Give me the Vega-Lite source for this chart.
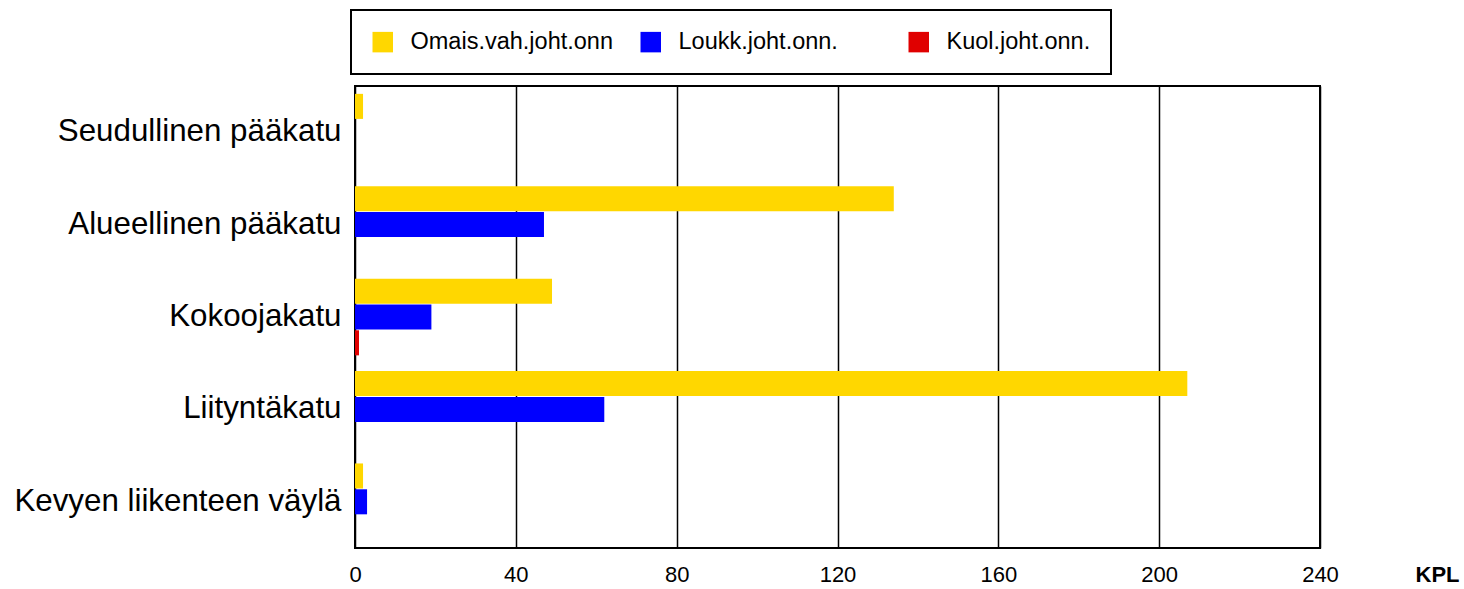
{
  "$schema": "https://vega.github.io/schema/vega-lite/v6.json",
  "width": 965,
  "height": 462,
  "autosize": {"type": "none"},
  "padding": {"left": 355, "top": 86, "right": 144, "bottom": 41},
  "background": "white",
  "data": {
    "values": [
      {"katu": "Seudullinen pääkatu", "sarja": "Omais.vah.joht.onn", "kpl": 2},
      {"katu": "Seudullinen pääkatu", "sarja": "Loukk.joht.onn.", "kpl": 0},
      {"katu": "Seudullinen pääkatu", "sarja": "Kuol.joht.onn.", "kpl": 0},
      {"katu": "Alueellinen pääkatu", "sarja": "Omais.vah.joht.onn", "kpl": 134},
      {"katu": "Alueellinen pääkatu", "sarja": "Loukk.joht.onn.", "kpl": 47},
      {"katu": "Alueellinen pääkatu", "sarja": "Kuol.joht.onn.", "kpl": 0},
      {"katu": "Kokoojakatu", "sarja": "Omais.vah.joht.onn", "kpl": 49},
      {"katu": "Kokoojakatu", "sarja": "Loukk.joht.onn.", "kpl": 19},
      {"katu": "Kokoojakatu", "sarja": "Kuol.joht.onn.", "kpl": 1},
      {"katu": "Liityntäkatu", "sarja": "Omais.vah.joht.onn", "kpl": 207},
      {"katu": "Liityntäkatu", "sarja": "Loukk.joht.onn.", "kpl": 62},
      {"katu": "Liityntäkatu", "sarja": "Kuol.joht.onn.", "kpl": 0},
      {"katu": "Kevyen liikenteen väylä", "sarja": "Omais.vah.joht.onn", "kpl": 2},
      {"katu": "Kevyen liikenteen väylä", "sarja": "Loukk.joht.onn.", "kpl": 3},
      {"katu": "Kevyen liikenteen väylä", "sarja": "Kuol.joht.onn.", "kpl": 0}
    ]
  },
  "mark": {"type": "bar", "strokeWidth": 0},
  "encoding": {
    "y": {
      "field": "katu",
      "type": "nominal",
      "sort": ["Seudullinen pääkatu", "Alueellinen pääkatu", "Kokoojakatu", "Liityntäkatu", "Kevyen liikenteen väylä"],
      "scale": {"paddingInner": 0.17, "paddingOuter": 0.085},
      "axis": {
        "title": null,
        "ticks": false,
        "domain": false,
        "grid": false,
        "labelFont": "Liberation Sans",
        "labelFontSize": 31.3,
        "labelColor": "black",
        "labelPadding": 14,
        "labelLimit": 400
      }
    },
    "yOffset": {
      "field": "sarja",
      "type": "nominal",
      "sort": ["Omais.vah.joht.onn", "Loukk.joht.onn.", "Kuol.joht.onn."],
      "scale": {"paddingInner": 0.03}
    },
    "x": {
      "field": "kpl",
      "type": "quantitative",
      "scale": {"domain": [0, 240], "nice": false},
      "axis": {
        "values": [0, 40, 80, 120, 160, 200, 240],
        "title": "KPL",
        "titleFont": "Liberation Sans",
        "titleFontSize": 22,
        "titleFontWeight": "bold",
        "titleColor": "black",
        "titleX": 1082,
        "titleY": 16,
        "titleBaseline": "top",
        "titleAlign": "center",
        "ticks": false,
        "domain": false,
        "grid": true,
        "gridColor": "black",
        "gridWidth": 1.5,
        "gridOpacity": 1,
        "labelFont": "Liberation Sans",
        "labelFontSize": 22,
        "labelColor": "black",
        "labelPadding": 16,
        "labelFlush": false
      }
    },
    "color": {
      "field": "sarja",
      "type": "nominal",
      "sort": ["Omais.vah.joht.onn", "Loukk.joht.onn.", "Kuol.joht.onn."],
      "scale": {
        "domain": ["Omais.vah.joht.onn", "Loukk.joht.onn.", "Kuol.joht.onn."],
        "range": ["#FFD700", "#0000FF", "#E00000"]
      },
      "legend": {
        "title": null,
        "orient": "none",
        "legendX": -4,
        "legendY": -76,
        "direction": "horizontal",
        "columns": 3,
        "gridAlign": "all",
        "columnPadding": 26,
        "padding": 20,
        "strokeColor": "black",
        "fillColor": "white",
        "symbolType": "square",
        "symbolSize": 420,
        "symbolStrokeWidth": 0,
        "labelFont": "Liberation Sans",
        "labelFontSize": 23.5,
        "labelColor": "black",
        "labelOffset": 16,
        "labelLimit": 400,
        "encode": {"legend": {"update": {"strokeWidth": {"value": 2}}}}
      }
    }
  },
  "config": {
    "view": {"stroke": "black", "strokeWidth": 2},
    "axis": {"labelFont": "Liberation Sans"}
  }
}
